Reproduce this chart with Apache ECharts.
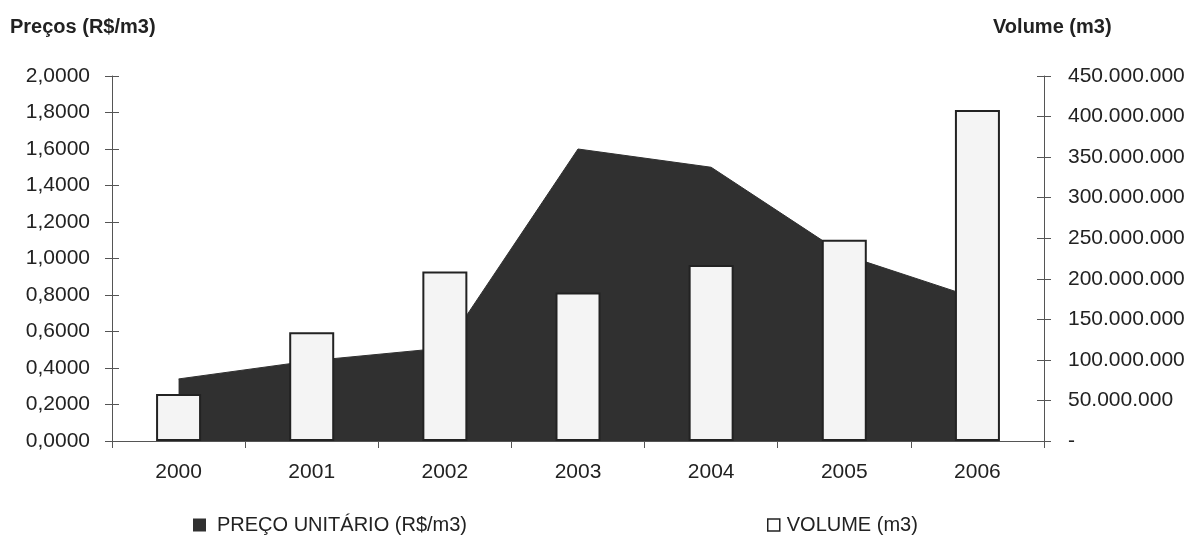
<!DOCTYPE html>
<html>
<head>
<meta charset="utf-8">
<script src="https://cdn.jsdelivr.net/npm/echarts@6/dist/echarts.min.js"></script>
<style>
html,body{margin:0;padding:0;background:#fff;}
#chart{width:1195px;height:536px;}
</style>
</head>
<body>
<div id="chart"></div>
<script>
const years = ['2000','2001','2002','2003','2004','2005','2006'];
const precoUnitario = [0.34, 0.44, 0.51, 1.60, 1.50, 1.02, 0.78];
const volume = [58000000, 134000000, 209000000, 183000000, 217000000, 248000000, 408000000];
const leftTitle = 'Preços (R$/m3)';
const rightTitle = 'Volume (m3)';
const precoName = 'PREÇO UNITÁRIO (R$/m3)';
const volumeName = 'VOLUME (m3)';

const txt = '#222';
const axisCol = '#555';
const areaCol = '#303030';
const font = 'Liberation Sans, Arial, sans-serif';

function fmtPreco(v){ return v.toFixed(4).replace('.', ','); }
function fmtVol(v){
  if (v === 0) return '-';
  return String(Math.round(v)).replace(/\B(?=(\d{3})+(?!\d))/g, '.');
}

const chart = echarts.init(document.getElementById('chart'), null, {renderer:'canvas'});
const grid = {left:112, right:151, top:76, bottom:95};
chart.setOption({
  animation:false,
  backgroundColor:'#fff',
  title:[
    {text:leftTitle, left:10, top:17, padding:0, textStyle:{fontFamily:font, fontSize:20, fontWeight:'bold', color:txt}},
    {text:rightTitle, left:993, top:17, padding:0, textStyle:{fontFamily:font, fontSize:20, fontWeight:'bold', color:txt}}
  ],
  legend:[
    {left:193, top:515, padding:0, itemWidth:13, itemHeight:13, icon:'rect',
     data:[{name:precoName, itemStyle:{color:areaCol, borderWidth:0}}],
     textStyle:{fontFamily:font, fontSize:20, color:txt, padding:[0,0,0,6]}},
    {left:767, top:515, padding:0, itemWidth:12, itemHeight:12, icon:'rect',
     data:[{name:volumeName, itemStyle:{color:'#fff', borderColor:'#222', borderWidth:1.5}}],
     textStyle:{fontFamily:font, fontSize:20, color:txt, padding:[0,0,0,2]}}
  ],
  grid:grid,
  xAxis:{
    type:'category', data:years, boundaryGap:true,
    axisLine:{lineStyle:{color:axisCol, width:1}},
    axisTick:{show:true, length:7, lineStyle:{color:axisCol}},
    axisLabel:{color:txt, fontFamily:font, fontSize:21, margin:21}
  },
  yAxis:[
    {type:'value', position:'left', min:0, max:2, interval:0.2,
     axisLine:{show:true, lineStyle:{color:axisCol}},
     axisTick:{show:true, length:7, lineStyle:{color:axisCol}},
     splitLine:{show:false},
     axisLabel:{color:txt, fontFamily:font, fontSize:21, margin:22, formatter:fmtPreco}},
    {type:'value', position:'right', min:0, max:450000000, interval:50000000,
     axisLine:{show:true, lineStyle:{color:axisCol}},
     axisTick:{show:true, length:7, lineStyle:{color:axisCol}},
     splitLine:{show:false},
     axisLabel:{color:txt, fontFamily:font, fontSize:21, margin:24, formatter:fmtVol}},
    {type:'value', position:'left', min:0, max:2, interval:0.2,
     axisLine:{show:false}, axisTick:{show:true, inside:true, length:7, lineStyle:{color:axisCol}},
     splitLine:{show:false}, axisLabel:{show:false}},
    {type:'value', position:'right', min:0, max:450000000, interval:50000000,
     axisLine:{show:false}, axisTick:{show:true, inside:true, length:7, lineStyle:{color:axisCol}},
     splitLine:{show:false}, axisLabel:{show:false}}
  ],
  series:[
    {name:precoName, type:'line', yAxisIndex:0, data:precoUnitario, symbol:'none', z:1,
     lineStyle:{color:areaCol, width:1}, itemStyle:{color:areaCol},
     areaStyle:{color:areaCol, opacity:1}},
    {name:volumeName, type:'bar', yAxisIndex:1, data:volume, barWidth:45, z:3,
     itemStyle:{color:'#f4f4f4', borderColor:'#222', borderWidth:2}}
  ]
});
</script>
</body>
</html>
